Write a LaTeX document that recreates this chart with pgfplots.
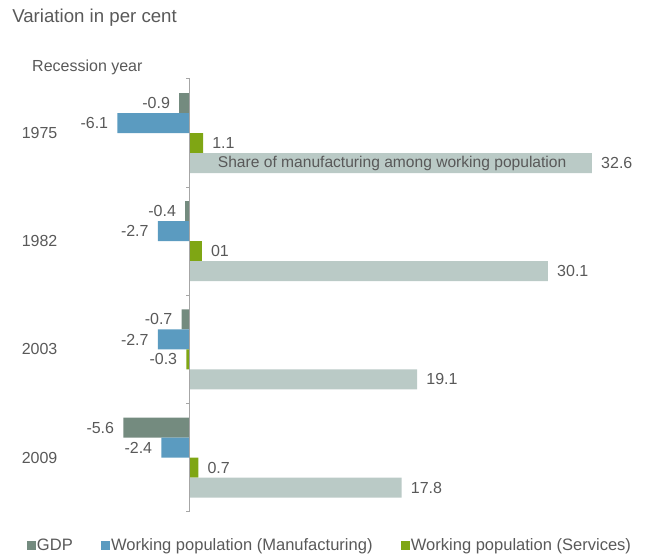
\documentclass[border=0pt]{standalone}
\usepackage{pgfplots}
\pgfplotsset{compat=1.18}
\usepackage{pgfplotstable}
\usepackage{fontspec}
\setmainfont{Liberation Sans}
\definecolor{gdp}{RGB}{116,139,127}
\definecolor{manuf}{RGB}{91,155,192}
\definecolor{serv}{RGB}{127,166,20}
\definecolor{share}{RGB}{186,202,198}
\definecolor{txt}{RGB}{89,89,89}
\definecolor{axisgrey}{RGB}{166,166,166}

% y: 3 = 1975, 2 = 1982, 1 = 2003, 0 = 2009
\pgfplotstableread{
y x label
3 -0.9 -0.9
2 -0.4 -0.4
1 -0.7 -0.7
0 -5.6 -5.6
}\gdp
\pgfplotstableread{
y x label
3 -6.1 -6.1
2 -2.7 -2.7
1 -2.7 -2.7
0 -2.4 -2.4
}\manuf
\pgfplotstableread{
y x label
3 1.1 1.1
2 1.0 01
1 -0.3 -0.3
0 0.7 0.7
}\serv
\pgfplotstableread{
y x label
3 33.8 32.6
2 30.1 30.1
1 19.1 19.1
0 17.8 17.8
}\share

\pgfplotsset{
  sqlegend/.style={legend image code/.code={\fill[##1] (0pt,-3.375pt) rectangle (6.75pt,3.375pt);}},
}

\begin{document}
\begin{tikzpicture}[font=\fontsize{12pt}{14pt}\selectfont]
\begin{axis}[
  scale only axis, width=419.5pt, height=324.75pt,
  xmin=-10, xmax=37, ymin=-0.5, ymax=3.5,
  axis line style={draw=none},
  xtick=\empty,
  ytick={0,1,2,3}, yticklabels={2009,2003,1982,1975},
  major tick length=0pt,
  yticklabel style={anchor=center, xshift=-23.6pt, text=txt, font=\fontsize{12pt}{14pt}\selectfont},
  clip=false,
  xbar, bar width=15pt,
  point meta=explicit symbolic,
  nodes near coords,
  visualization depends on={rawx \as \rx},
  every node near coord/.append style={text=txt, inner xsep=6.75pt, inner ysep=0pt, font=\fontsize{12pt}{14pt}\selectfont,
    /utils/exec={\ifdim\rx pt<0pt \gdef\myanc{east}\else\gdef\myanc{west}\fi}, anchor=\myanc},
  legend columns=3,
  legend cell align=left,
  legend style={draw=none, fill=none, at={(-0.0787,-0.0785)}, anchor=west, inner sep=0pt, outer sep=0pt,
    /tikz/every even column/.append style={column sep=20.5pt},
    nodes={inner xsep=0.75pt, inner ysep=0pt, text=txt, font=\fontsize{12.4pt}{14pt}\selectfont}},
]
\addplot[xbar, bar shift=22.5pt, fill=gdp, draw=none, sqlegend] table[x=x, y=y, meta=label] {\gdp};
\addlegendentry{GDP}
\addplot[xbar, bar shift=7.5pt, fill=manuf, draw=none, sqlegend] table[x=x, y=y, meta=label] {\manuf};
\addlegendentry{Working population (Manufacturing)}
\addplot[xbar, bar shift=-7.5pt, fill=serv, draw=none, sqlegend] table[x=x, y=y, meta=label] {\serv};
\addlegendentry{Working population (Services)}
\addplot[xbar, bar shift=-22.5pt, fill=share, draw=none, forget plot] table[x=x, y=y, meta=label] {\share};

\node[text=txt, anchor=center, yshift=-22.5pt, font=\fontsize{11.7pt}{14pt}\selectfont] at (axis cs:17,3) {Share of manufacturing among working population};

\draw[axisgrey, line width=0.75pt] (axis cs:0,-0.5) -- (axis cs:0,3.5);
\draw[axisgrey, line width=0.75pt] (axis cs:-0.3,-0.5) -- (axis cs:0,-0.5);
\draw[axisgrey, line width=0.75pt] (axis cs:-0.3,0.5) -- (axis cs:0,0.5);
\draw[axisgrey, line width=0.75pt] (axis cs:-0.3,1.5) -- (axis cs:0,1.5);
\draw[axisgrey, line width=0.75pt] (axis cs:-0.3,2.5) -- (axis cs:0,2.5);
\draw[axisgrey, line width=0.75pt] (axis cs:-0.3,3.5) -- (axis cs:0,3.5);

\node[anchor=west, inner xsep=0pt, text=txt, font=\fontsize{14pt}{16pt}\selectfont] at (axis description cs:-0.1055,1.1409) {Variation in per cent};
\node[anchor=west, inner xsep=0pt, text=txt] at (axis description cs:-0.0698,1.0277) {Recession year};

\path (axis description cs:-0.127,-0.1016) rectangle (axis description cs:1.0268,1.1824);
\end{axis}
\end{tikzpicture}
\end{document}
